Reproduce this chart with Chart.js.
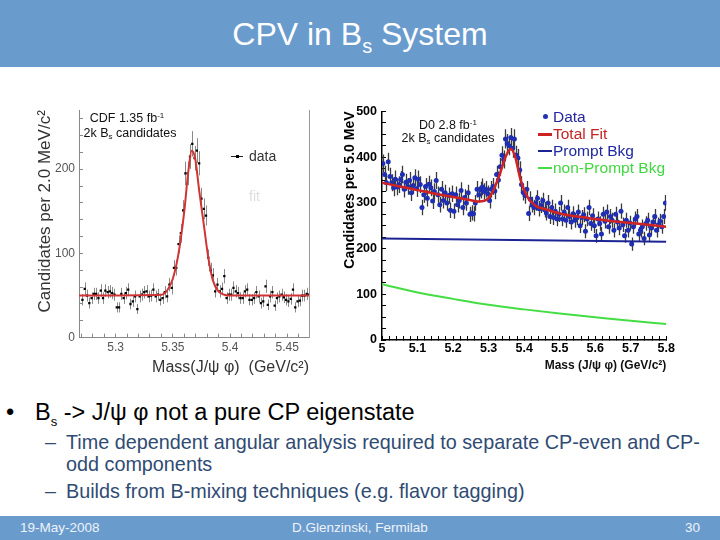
<!DOCTYPE html>
<html>
<head>
<meta charset="utf-8">
<script src="https://cdn.jsdelivr.net/npm/chart.js@4.4.0/dist/chart.umd.min.js"></script>
<style>
  body { margin: 0; background: #fff; font-family: "Liberation Sans", Arial, sans-serif; }
  .slide { position: relative; width: 720px; height: 540px; overflow: hidden; background: #fff; }
  .header { position: absolute; left: 0; top: 0; width: 720px; height: 67px; background: #6a9bcd; }
  .header__title { position: absolute; left: 0; width: 720px; top: 15px; text-align: center; color: #fff; font-size: 32px; line-height: 38px; }
  .header__title sub { font-size: 20px; vertical-align: -8px; line-height: 0; }
  .footer { position: absolute; left: 0; top: 516px; width: 720px; height: 24px; background: #6a9bcd; color: #eef3f9; font-size: 13.5px; line-height: 24px; }
  .abs { position: absolute; white-space: nowrap; }
  .chart { position: absolute; }
  .note { font-size: 12.5px; line-height: 15px; text-align: center; color: #111; }
  .note sub { font-size: 8px; vertical-align: -2px; line-height: 0; }
  .note sup { font-size: 8px; vertical-align: 4px; line-height: 0; }
  .bullet { font-size: 23.5px; line-height: 26px; color: #000; }
  .bullet sub { font-size: 13px; vertical-align: -6px; line-height: 0; }
  .sub-bullet { font-size: 19.8px; line-height: 22px; color: #2f4b73; }
  .legend-d0 { font-size: 15.5px; line-height: 17px; }
</style>
</head>
<body>
<div class="slide">
  <div class="header"><div class="header__title">CPV in B<sub>s</sub> System</div></div>

  <canvas id="cdf-chart" class="chart" width="285" height="285" style="left:30px;top:95px;width:285px;height:285px"></canvas>
  <canvas id="d0-chart" class="chart" width="345" height="285" style="left:335px;top:95px;width:345px;height:285px"></canvas>

  <!-- CDF annotations -->
  <div class="abs note" style="left:67px;top:111px;width:120px">CDF 1.35 fb<sup>-1</sup></div>
  <div class="abs note" style="left:70px;top:126px;width:120px">2k B<sub>s</sub> candidates</div>
  <div class="abs" style="left:231px;top:156px;width:12px;height:1px;background:#222"></div>
  <div class="abs" style="left:236px;top:155px;width:3px;height:3px;background:#000"></div>
  <div class="abs" style="left:249px;top:147px;font-size:14px;line-height:18px;color:#333">data</div>
  <div class="abs" style="left:249px;top:187px;font-size:14px;line-height:18px;color:#dedede">fit</div>

  <!-- D0 annotations -->
  <div class="abs note" style="left:388px;top:118px;width:120px">D0 2.8 fb<sup>-1</sup></div>
  <div class="abs note" style="left:388px;top:131px;width:120px">2k B<sub>s</sub> candidates</div>
  <div class="abs" style="left:543px;top:114px;width:5px;height:5px;border-radius:50%;background:#2233b0"></div>
  <div class="abs legend-d0" style="left:553px;top:108px;color:#2626a0">Data</div>
  <div class="abs" style="left:538px;top:133px;width:14px;height:3px;background:#cc2222"></div>
  <div class="abs legend-d0" style="left:553px;top:125px;color:#c42424">Total Fit</div>
  <div class="abs" style="left:538px;top:150px;width:14px;height:2px;background:#1c2494"></div>
  <div class="abs legend-d0" style="left:553px;top:142px;color:#1f28a0">Prompt Bkg</div>
  <div class="abs" style="left:538px;top:167px;width:14px;height:2px;background:#44dd44"></div>
  <div class="abs legend-d0" style="left:553px;top:159px;color:#3fd83f">non-Prompt Bkg</div>

  <!-- bullets -->
  <div class="abs bullet" style="left:6px;top:399px">•</div>
  <div class="abs bullet" style="left:35px;top:399px">B<sub>s</sub> -&gt; J/ψ φ not a pure CP eigenstate</div>
  <div class="abs sub-bullet" style="left:45px;top:431px">–</div>
  <div class="abs sub-bullet" style="left:66px;top:431px">Time dependent angular analysis required to separate CP-even and CP-</div>
  <div class="abs sub-bullet" style="left:66px;top:453px">odd components</div>
  <div class="abs sub-bullet" style="left:45px;top:480px">–</div>
  <div class="abs sub-bullet" style="left:66px;top:480px">Builds from B-mixing techniques (e.g. flavor tagging)</div>

  <div class="footer">
    <span class="abs" style="left:20px">19-May-2008</span>
    <span class="abs" style="left:0;width:720px;text-align:center">D.Glenzinski, Fermilab</span>
    <span class="abs" style="right:20px">30</span>
  </div>
</div>

<script>
  // CDF: 2 MeV bins starting at 5.270 GeV
  const cdfStart = 5.27;
  const cdfBinWidth = 0.002;
  const cdfCounts = [
    45, 58, 50, 41, 47, 52, 52, 47, 56, 47,
    56, 54, 55, 53, 51, 36, 36, 52, 47, 53,
    57, 40, 43, 49, 34, 49, 51, 54, 55, 49,
    50, 57, 49, 51, 45, 47, 54, 49, 63, 59,
    83, 83, 111, 124, 151, 195, 195, 215, 230, 213,
    222, 207, 165, 153, 145, 95, 80, 74, 55, 63,
    55, 58, 73, 47, 51, 51, 59, 55, 53, 47,
    47, 55, 57, 45, 45, 47, 54, 49, 41, 43,
    61, 39, 49, 54, 38, 47, 49, 51, 48, 45,
    43, 46, 57, 36, 43, 44, 50, 50, 52, 51
  ];
  const cdfFitMass = [5.268, 5.34, 5.345, 5.35, 5.355, 5.36, 5.3635, 5.3665, 5.3695, 5.373, 5.377, 5.381, 5.385, 5.39, 5.395, 5.40, 5.469];
  const cdfFitValue = [50, 51, 56, 70, 100, 150, 197, 222, 213, 175, 135, 95, 68, 55, 51, 50, 50];
  const cdfXTicks = [5.3, 5.35, 5.4, 5.45];
  const cdfYTicks = [0, 100, 200];

  // D0: 5 MeV bins starting at 5.000 GeV
  const d0Start = 5.0;
  const d0BinWidth = 0.005;
  const d0Counts = [
    386, 362, 344, 390, 358, 344, 333, 352, 335, 340,
    351, 362, 330, 345, 336, 349, 322, 338, 355, 331,
    352, 340, 290, 318, 336, 310, 341, 333, 304, 325,
    349, 318, 296, 330, 305, 322, 300, 316, 284, 320,
    282, 318, 296, 305, 327, 290, 312, 300, 322, 275,
    278, 276, 300, 330, 318, 328, 335, 325, 330, 320,
    305, 330, 336, 326, 362, 350, 379, 404, 395, 440,
    430, 425, 443, 419, 440, 405, 398, 372, 340, 323,
    316, 330, 277, 308, 296, 290, 300, 310, 287, 295,
    305, 285, 278, 300, 270, 290, 268, 282, 265, 275,
    300, 265, 280, 262, 290, 270, 258, 276, 262, 268,
    280, 250, 268, 274, 238, 265, 290, 255, 272, 250,
    228, 265, 255, 232, 275, 260, 280, 248, 270, 262,
    240, 275, 258, 245, 282, 252, 228, 262, 240, 256,
    210, 248, 265, 270, 232, 240, 248, 222, 255, 262,
    230, 245, 258, 270, 240, 252, 260, 248, 270, 300
  ];
  const d0FitMass = [5.0, 5.05, 5.1, 5.15, 5.2, 5.25, 5.27, 5.29, 5.31, 5.33, 5.35, 5.363, 5.375, 5.39, 5.41, 5.43, 5.46, 5.5, 5.55, 5.6, 5.65, 5.7, 5.75, 5.8];
  const d0FitValue = [344, 336, 328, 320, 313, 306, 303, 305, 322, 360, 405, 418, 400, 350, 312, 295, 286, 277, 270, 265, 260, 256, 252, 248];
  const d0PromptMass = [5.0, 5.8];
  const d0PromptValue = [222, 215];
  const d0NonPromptMass = [5.0, 5.1, 5.2, 5.3, 5.4, 5.5, 5.6, 5.7, 5.8];
  const d0NonPromptValue = [122, 104, 90, 77, 67, 58, 50, 42, 35];
  const d0XTicks = [5, 5.1, 5.2, 5.3, 5.4, 5.5, 5.6, 5.7, 5.8];
  const d0YTicks = [0, 100, 200, 300, 400, 500];

  Chart.defaults.font.family = '"Liberation Sans", Arial, sans-serif';
  Chart.defaults.animation = false;

  const toPoints = (xs, ys) => xs.map((x, i) => ({ x, y: ys[i] }));
  const binPoints = (start, width, counts) =>
    counts.map((n, i) => ({ x: start + width * (i + 0.5), y: n }));
  const labelFrom = (list) => (v) => {
    const hit = list.find((t) => Math.abs(t - v) < 1e-6);
    return hit === undefined ? "" : String(hit);
  };

  // sqrt(N) error bars under the data points
  const errorBars = {
    id: "errorBars",
    beforeDatasetsDraw(chart, args, opts) {
      const { ctx, chartArea, scales } = chart;
      const data = chart.data.datasets[opts.datasetIndex].data;
      ctx.save();
      ctx.beginPath();
      ctx.rect(chartArea.left, chartArea.top, chartArea.width, chartArea.height);
      ctx.clip();
      ctx.strokeStyle = opts.color;
      ctx.lineWidth = opts.width;
      ctx.beginPath();
      data.forEach((p) => {
        const px = Math.round(scales.x.getPixelForValue(p.x)) + 0.5;
        const err = Math.sqrt(p.y);
        ctx.moveTo(px, scales.y.getPixelForValue(p.y + err));
        ctx.lineTo(px, scales.y.getPixelForValue(p.y - err));
      });
      ctx.stroke();
      ctx.restore();
    },
  };

  new Chart(document.getElementById("cdf-chart"), {
    type: "line",
    data: {
      datasets: [
        {
          data: binPoints(cdfStart, cdfBinWidth, cdfCounts),
          showLine: false,
          pointStyle: "rect",
          pointRadius: 1.6,
          pointBackgroundColor: "#000",
          pointBorderWidth: 0,
          order: 1,
        },
        {
          data: toPoints(cdfFitMass, cdfFitValue),
          borderColor: "#d03434",
          borderWidth: 2,
          pointRadius: 0,
          cubicInterpolationMode: "monotone",
          order: 0,
        },
      ],
    },
    plugins: [errorBars],
    options: {
      responsive: false,
      layout: { padding: { top: 8.6, right: 6, left: 0, bottom: 0 } },
      plugins: {
        legend: { display: false },
        tooltip: { enabled: false },
        errorBars: { datasetIndex: 0, color: "#8a8a8a", width: 1 },
      },
      scales: {
        x: {
          type: "linear",
          min: 5.268,
          max: 5.469,
          afterFit: (s) => { s.height = 42.3; },
          border: { color: "#888", width: 1 },
          grid: { drawOnChartArea: false, tickLength: -4, tickColor: "#888" },
          ticks: {
            stepSize: 0.01,
            includeBounds: false,
            autoSkip: false,
            maxRotation: 0,
            padding: 7,
            color: "#555",
            font: { size: 12 },
            callback: labelFrom(cdfXTicks),
          },
          title: {
            display: true,
            text: "Mass(J/\u03c8 \u03c6)  (GeV/c\u00b2)",
            align: "end",
            color: "#333",
            font: { size: 16 },
            padding: { top: 0, bottom: 3 },
          },
        },
        y: {
          min: 0,
          max: 270,
          afterFit: (s) => { s.width = 49; },
          border: { color: "#888", width: 1 },
          grid: { drawOnChartArea: false, tickLength: -4, tickColor: "#888" },
          ticks: {
            stepSize: 20,
            includeBounds: false,
            autoSkip: false,
            padding: 8,
            color: "#555",
            font: { size: 12 },
            callback: labelFrom(cdfYTicks),
          },
          title: {
            display: true,
            text: "Candidates per 2.0 MeV/c\u00b2",
            align: "end",
            color: "#333",
            font: { size: 17 },
            padding: { top: 5, bottom: 0 },
          },
        },
        y2: {
          position: "right",
          min: 0,
          max: 270,
          afterFit: (s) => { s.width = 0; },
          border: { color: "#999", width: 1 },
          grid: { drawOnChartArea: false, drawTicks: false },
          ticks: { display: false },
        },
      },
    },
  });

  new Chart(document.getElementById("d0-chart"), {
    type: "line",
    data: {
      datasets: [
        {
          data: binPoints(d0Start, d0BinWidth, d0Counts),
          showLine: false,
          pointStyle: "circle",
          pointRadius: 2.5,
          pointBackgroundColor: "#1f2fb4",
          pointBorderWidth: 0,
          order: 3,
        },
        {
          data: toPoints(d0NonPromptMass, d0NonPromptValue),
          borderColor: "#44dd44",
          borderWidth: 2,
          pointRadius: 0,
          cubicInterpolationMode: "monotone",
          order: 2,
        },
        {
          data: toPoints(d0PromptMass, d0PromptValue),
          borderColor: "#1c2494",
          borderWidth: 2,
          pointRadius: 0,
          order: 1,
        },
        {
          data: toPoints(d0FitMass, d0FitValue),
          borderColor: "#d02424",
          borderWidth: 2.5,
          pointRadius: 0,
          cubicInterpolationMode: "monotone",
          order: 0,
        },
      ],
    },
    plugins: [errorBars],
    options: {
      responsive: false,
      layout: { padding: { top: 10, right: 12, left: 0, bottom: 0 } },
      plugins: {
        legend: { display: false },
        tooltip: { enabled: false },
        errorBars: { datasetIndex: 0, color: "#3a3a3a", width: 1.3 },
      },
      scales: {
        x: {
          type: "linear",
          min: 5.0,
          max: 5.8,
          afterFit: (s) => { s.height = 40; },
          border: { color: "#000", width: 1.5 },
          grid: { drawOnChartArea: false, tickLength: -4, tickColor: "#000" },
          ticks: {
            stepSize: 0.02,
            includeBounds: false,
            autoSkip: false,
            maxRotation: 0,
            padding: 5,
            color: "#000",
            font: { size: 12.5, weight: "bold" },
            callback: labelFrom(d0XTicks),
          },
          title: {
            display: true,
            text: "Mass (J/\u03c8 \u03c6) (GeV/c\u00b2)",
            align: "end",
            color: "#111",
            font: { size: 12, weight: "bold" },
            padding: { top: 0, bottom: 7 },
          },
        },
        y: {
          min: 0,
          max: 500,
          afterFit: (s) => { s.width = 47; },
          border: { color: "#000", width: 1.5 },
          grid: { drawOnChartArea: false, tickLength: -4, tickColor: "#000" },
          ticks: {
            stepSize: 25,
            includeBounds: false,
            autoSkip: false,
            padding: 9,
            color: "#000",
            font: { size: 12.5, weight: "bold" },
            callback: labelFrom(d0YTicks),
          },
          title: {
            display: true,
            text: "Candidates per 5.0 MeV",
            align: "end",
            color: "#000",
            font: { size: 14, weight: "bold" },
            padding: { top: 7, bottom: 0 },
          },
        },
      },
    },
  });
</script>
</body>
</html>
